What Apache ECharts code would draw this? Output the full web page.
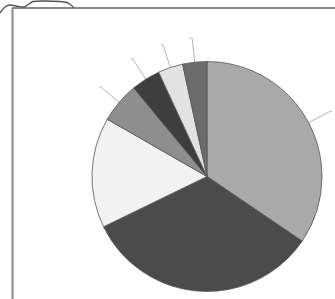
<!DOCTYPE html>
<html>
<head>
<meta charset="utf-8">
<script src="https://cdn.jsdelivr.net/npm/echarts@6/dist/echarts.min.js"></script>
<style>
  html, body { margin: 0; padding: 0; background: #fff; }
  #chart { width: 335px; height: 299px; }
</style>
</head>
<body>
<div id="chart"></div>
<script>
// slices clockwise from 12 o'clock (no text in the picture, so names are placeholders)
var categories = ['S1', 'S2', 'S3', 'S4', 'S5', 'S6', 'S7'];
var shares = [34.5, 33.3, 15.5, 5.7, 4.1, 3.5, 3.4];

var sliceColors = ['#a9a9a9', '#4b4b4b', '#f2f2f2', '#8e8e8e', '#3e3e3e', '#e2e2e2', '#6c6c6c'];
var hasLeader = [true, false, false, true, true, true, true];

var myChart = echarts.init(document.getElementById('chart'));

var data = [];
for (var i = 0; i < categories.length; i++) {
    data.push({
        name: categories[i],
        value: shares[i],
        itemStyle: { color: sliceColors[i] },
        labelLine: { show: hasLeader[i] }
    });
}

myChart.setOption({
    backgroundColor: '#ffffff',
    animation: false,
    graphic: [
        // frame lines of the scanned figure
        { type: 'line', shape: { x1: 12, y1: 8, x2: 335, y2: 8 }, style: { stroke: '#8a8a8a', lineWidth: 2 } },
        { type: 'line', shape: { x1: 12.5, y1: 8, x2: 12.5, y2: 299 }, style: { stroke: '#8a8a8a', lineWidth: 2 } },
        {
            type: 'polyline',
            shape: {
                points: [[0, 13], [4, 8], [9, 5], [16, 6], [24, 7], [29, 4], [33, 1.5], [45, 1], [60, 1.5], [67, 2.5], [71, 5], [74, 8]],
                smooth: 0.3
            },
            style: { stroke: '#555555', lineWidth: 1.4, fill: null }
        }
    ],
    series: [
        {
            name: 'share',
            type: 'pie',
            center: [207, 176.5],
            radius: 115,
            startAngle: 90,
            clockwise: true,
            avoidLabelOverlap: false,
            data: data,
            itemStyle: {
                borderColor: '#555555',
                borderWidth: 0.8
            },
            label: {
                show: true,
                formatter: ' ',
                fontSize: 1
            },
            labelLine: {
                length: 24,
                length2: 2,
                smooth: false,
                lineStyle: { color: '#b5b5b5', width: 1 }
            },
            emphasis: { disabled: true }
        }
    ]
});
</script>
</body>
</html>
